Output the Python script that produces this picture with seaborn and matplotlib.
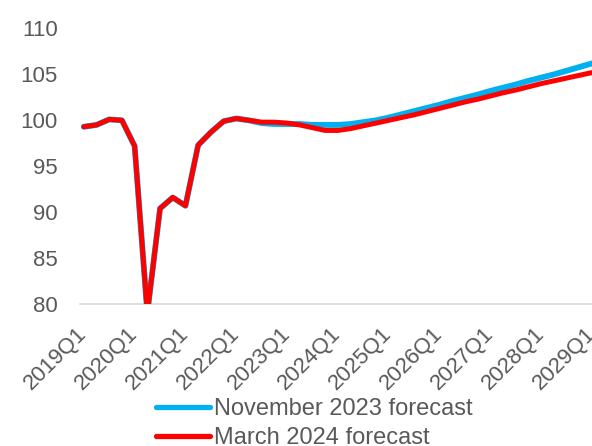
import pandas as pd
import matplotlib
matplotlib.use('Agg')
import matplotlib.pyplot as plt
import seaborn as sns

sns.set_style('white')
plt.rcParams['font.family'] = ['Liberation Sans', 'DejaVu Sans']

# quarters 2019Q1 .. 2029Q1
quarters = [f'{y}Q{q}' for y in range(2019, 2030) for q in range(1, 5)][:41]
tick_labels = [f'{y}Q1' for y in range(2019, 2030)]

nov_2023 = [99.3, 99.5, 100.1, 100.0, 97.2, 79.0, 90.4, 91.6, 90.7, 97.3,
            98.7, 99.9, 100.2, 100.0, 99.7, 99.6, 99.6, 99.6, 99.5, 99.5,
            99.5, 99.6, 99.8, 100.0, 100.3, 100.65, 101.0, 101.35, 101.7, 102.1,
            102.45, 102.8, 103.2, 103.55, 103.9, 104.3, 104.65, 105.0, 105.4, 105.8,
            106.2]
mar_2024 = [99.3, 99.5, 100.1, 100.0, 97.2, 79.0, 90.4, 91.6, 90.7, 97.3,
            98.7, 99.9, 100.2, 100.0, 99.8, 99.8, 99.7, 99.5, 99.2, 98.9,
            98.9, 99.1, 99.4, 99.7, 100.0, 100.3, 100.6, 100.95, 101.3, 101.65,
            102.0, 102.3, 102.65, 103.0, 103.3, 103.65, 104.0, 104.3, 104.6, 104.9,
            105.2]

df = pd.DataFrame({
    'q': list(range(41)) * 2,
    'value': nov_2023 + mar_2024,
    'series': ['November 2023 forecast'] * 41 + ['March 2024 forecast'] * 41,
})

fig = plt.figure(figsize=(5.92, 4.46), dpi=100)
ax = fig.add_axes([80 / 592, 1 - 304 / 446, 1 - 80 / 592, (304 - 28.5) / 446])

sns.lineplot(data=df, x='q', y='value', hue='series',
             palette={'November 2023 forecast': '#00B0F0', 'March 2024 forecast': '#FF0000'},
             ax=ax, legend=False, linewidth=3.6)
ax.lines[0].set_linewidth(4.2)

ax.set_ylim(80, 110)
ax.set_xlim(-0.3, 40)
ax.set_yticks(range(80, 111, 5))
ax.set_xticks(range(0, 41, 4))
ax.set_xticklabels(tick_labels, rotation=45, ha='right', va='center',
                   rotation_mode='anchor')
ax.set_xlabel('')
ax.set_ylabel('')
ax.tick_params(axis='both', length=0, labelsize=16, colors='#595959')
ax.tick_params(axis='y', pad=16)
ax.tick_params(axis='x', pad=19)
for s in ['top', 'right', 'left']:
    ax.spines[s].set_visible(False)
ax.spines['bottom'].set_color('#D9D9D9')
ax.spines['bottom'].set_linewidth(1.2)
ax.spines['bottom'].set_zorder(0)

handles = [plt.Line2D([], [], color='#00B0F0', lw=3.8, solid_capstyle='round'),
           plt.Line2D([], [], color='#FF0000', lw=3.8, solid_capstyle='round')]
fig.legend(handles, ['November 2023 forecast', 'March 2024 forecast'],
           loc='upper center', bbox_to_anchor=(314 / 592, 1 - 386 / 446),
           frameon=False, fontsize=17, labelcolor='#595959',
           handlelength=2.3, handletextpad=0.15, labelspacing=0.3,
           borderpad=0)

fig.savefig('out.png', dpi=100)
